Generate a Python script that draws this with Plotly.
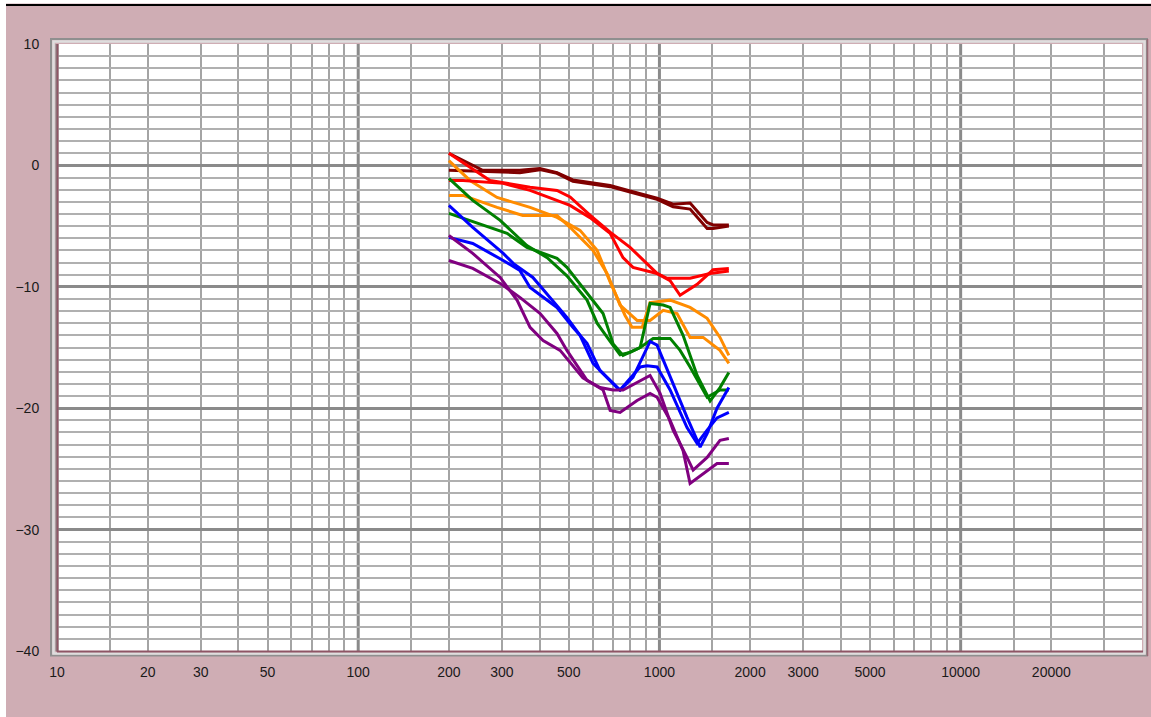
import math
import plotly.graph_objects as go

# ---------------- data (frequency in Hz, level in dB) ----------------
maroon_a_f = [200, 259, 344, 401, 457, 516, 588, 686, 799, 982, 1110, 1264, 1440, 1507, 1700]
maroon_a_db = [1.0, -0.4, -0.4, -0.25, -0.6, -1.2, -1.4, -1.65, -2.1, -2.7, -3.2, -3.1, -4.7, -4.9, -4.9]
maroon_b_f = [200, 259, 344, 401, 457, 516, 588, 686, 799, 982, 1110, 1264, 1440, 1507, 1700]
maroon_b_db = [-0.4, -0.5, -0.6, -0.35, -0.65, -1.3, -1.5, -1.75, -2.2, -2.8, -3.4, -3.6, -5.2, -5.2, -5.0]

red_a_f = [200, 223, 274, 372, 457, 505, 588, 686, 799, 982, 1085, 1171, 1334, 1507, 1700]
red_a_db = [1.0, 0.25, -1.24, -1.8, -2.06, -2.6, -4.1, -5.5, -6.75, -8.9, -9.5, -10.7, -9.8, -8.6, -8.5]
red_b_f = [200, 223, 303, 372, 505, 588, 686, 757, 817, 982, 1060, 1264, 1473, 1700]
red_b_db = [-1.24, -1.24, -1.48, -2.06, -3.3, -4.3, -5.6, -7.6, -8.4, -8.9, -9.3, -9.3, -8.9, -8.7]

orange_a_f = [200, 235, 289, 372, 457, 545, 621, 686, 769, 811, 876, 931, 1085, 1264, 1440, 1589, 1700]
orange_a_db = [0.4, -1.24, -2.64, -3.46, -4.28, -5.35, -7.0, -9.6, -12.36, -13.34, -13.34, -11.3, -11.1, -11.7, -12.6, -14.17, -15.65]
orange_b_f = [200, 223, 289, 352, 457, 505, 602, 670, 740, 843, 931, 1029, 1144, 1264, 1397, 1589, 1700]
orange_b_db = [-2.47, -2.47, -3.46, -4.12, -4.12, -5.1, -7.0, -8.9, -11.5, -12.77, -12.77, -11.94, -12.2, -14.17, -14.17, -15.24, -16.3]

green_a_f = [200, 240, 296, 363, 424, 493, 575, 621, 686, 740, 799, 863, 931, 1029, 1085, 1198, 1334, 1473, 1589, 1700]
green_a_db = [-1.07, -2.88, -4.53, -6.6, -7.6, -9.1, -11.1, -13.0, -14.5, -15.6, -15.4, -15.0, -11.37, -11.5, -11.7, -14.0, -17.3, -19.4, -18.3, -17.05]
green_b_f = [200, 235, 312, 363, 424, 457, 493, 557, 602, 650, 702, 757, 863, 953, 1085, 1171, 1264, 1440, 1589, 1700]
green_b_db = [-3.95, -4.53, -5.6, -6.75, -7.4, -7.66, -8.4, -10.05, -11.1, -12.2, -14.7, -15.65, -15.0, -14.25, -14.25, -15.24, -16.6, -19.1, -18.5, -18.5]

blue_a_f = [200, 240, 303, 327, 380, 434, 493, 545, 602, 723, 740, 817, 931, 982, 1085, 1235, 1365, 1440, 1553, 1700]
blue_a_db = [-3.29, -5.11, -7.25, -8.07, -9.23, -10.87, -12.52, -14.0, -16.3, -18.3, -18.5, -17.46, -14.5, -14.8, -17.46, -20.76, -23.2, -22.1, -20.0, -18.3]
blue_b_f = [200, 240, 303, 344, 372, 424, 457, 516, 575, 635, 702, 740, 863, 910, 982, 1085, 1235, 1334, 1440, 1553, 1700]
blue_b_db = [-5.93, -6.43, -7.83, -8.65, -10.05, -11.1, -11.7, -13.34, -14.66, -16.9, -18.0, -18.5, -16.6, -16.5, -16.6, -18.5, -21.6, -22.9, -21.8, -20.8, -20.35]

purple_a_f = [200, 240, 296, 337, 372, 411, 468, 557, 650, 686, 740, 843, 931, 982, 1085, 1198, 1264, 1397, 1553, 1700]
purple_a_db = [-5.77, -7.25, -9.23, -11.12, -13.34, -14.42, -15.24, -17.5, -18.5, -20.18, -20.35, -19.36, -18.78, -19.1, -21.0, -23.5, -26.2, -25.4, -24.55, -24.55]
purple_b_f = [200, 240, 296, 344, 401, 457, 493, 575, 635, 702, 757, 863, 931, 1005, 1110, 1235, 1294, 1440, 1589, 1700]
purple_b_db = [-7.83, -8.48, -9.72, -10.87, -12.19, -13.84, -15.24, -17.71, -18.3, -18.5, -18.5, -17.7, -17.3, -18.78, -21.8, -24.05, -25.1, -24.05, -22.65, -22.5]

x_tick_vals = [10, 20, 30, 50, 100, 200, 300, 500, 1000, 2000, 3000, 5000, 10000, 20000]
x_tick_text = ["10", "20", "30", "50", "100", "200", "300", "500", "1000", "2000", "3000", "5000", "10000", "20000"]
x_minor = [m * d for d in (10, 100, 1000) for m in (1.5, 2, 3, 4, 5, 6, 7, 8, 9)] + [15000, 20000, 30000]
x_decades = [10, 100, 1000, 10000]
y_tick_vals = [-40, -30, -20, -10, 0, 10]
x_min, x_max = 10, 40000
y_min, y_max = -40, 10

series = [
    (maroon_a_f, maroon_a_db, "#800000"),
    (maroon_b_f, maroon_b_db, "#800000"),
    (orange_a_f, orange_a_db, "#ff8c00"),
    (orange_b_f, orange_b_db, "#ff8c00"),
    (red_a_f, red_a_db, "#ff0000"),
    (red_b_f, red_b_db, "#ff0000"),
    (green_a_f, green_a_db, "#008000"),
    (green_b_f, green_b_db, "#008000"),
    (blue_a_f, blue_a_db, "#0000ff"),
    (blue_b_f, blue_b_db, "#0000ff"),
    (purple_a_f, purple_a_db, "#800080"),
    (purple_b_f, purple_b_db, "#800080"),
]

PINK = "#cfadb4"
fig = go.Figure()
for f, db, col in series:
    fig.add_trace(go.Scatter(x=f, y=db, mode="lines",
                             line=dict(color=col, width=3), showlegend=False,
                             hoverinfo="skip"))

lx0, lx1 = math.log10(x_min), math.log10(x_max)
shapes = []
for d in x_decades:
    xp = (math.log10(d) - lx0) / (lx1 - lx0)
    shapes.append(dict(type="line", xref="paper", yref="paper", x0=xp, x1=xp, y0=0, y1=1,
                       line=dict(color="#8a8a8a", width=3), layer="below"))

W, H = 1085.0, 607.0
def px(x):
    return (x - 57) / W
def py(y):
    return (651 - y) / H

# frame around plot area
shapes += [
    dict(type="rect", xref="paper", yref="paper", x0=px(51), x1=px(1147), y0=py(655.5), y1=py(39),
         line=dict(color="#8f8f8f", width=2), layer="above"),
    dict(type="rect", xref="paper", yref="paper", x0=px(53.5), x1=px(1144.5), y0=py(653.5), y1=py(41.5),
         line=dict(color="#dedede", width=2.5), layer="above"),
    dict(type="line", xref="paper", yref="paper", x0=px(57.5), x1=px(57.5), y0=py(652), y1=py(44),
         line=dict(color="#8e5565", width=2), layer="above"),
    dict(type="line", xref="paper", yref="paper", x0=px(57), x1=px(1143), y0=py(651.5), y1=py(651.5),
         line=dict(color="#8e5565", width=2), layer="above"),
    dict(type="line", xref="paper", yref="paper", x0=px(1147.5), x1=px(1147.5), y0=py(656), y1=py(39),
         line=dict(color="#9a6a76", width=1.5), layer="above"),
    # white strips and black top line
    dict(type="rect", xref="paper", yref="paper", x0=px(0), x1=px(6), y0=py(717), y1=py(0),
         line=dict(width=0), fillcolor="white", layer="above"),
    dict(type="rect", xref="paper", yref="paper", x0=px(0), x1=px(1151), y0=py(3.5), y1=py(0),
         line=dict(width=0), fillcolor="white", layer="above"),
    dict(type="line", xref="paper", yref="paper", x0=px(6), x1=px(1151), y0=py(5), y1=py(5),
         line=dict(color="black", width=2), layer="above"),
]

fig.update_layout(
    width=1151, height=717,
    margin=dict(l=57, r=9, t=44, b=66, autoexpand=False),
    paper_bgcolor=PINK, plot_bgcolor="white",
    shapes=shapes,
    xaxis=dict(type="log", range=[lx0, lx1], tickmode="array", tickvals=x_tick_vals,
               ticktext=x_tick_text, showgrid=False, zeroline=False, showline=False,
               ticks="outside", ticklen=8, tickcolor="rgba(0,0,0,0)",
               tickfont=dict(family="Liberation Sans Narrow, Arial Narrow, Liberation Sans, Arial",
                             size=14, color="#1a1a1a"),
               minor=dict(tickmode="array", tickvals=x_minor, showgrid=True,
                          gridcolor="#a4a4a4", gridwidth=2, ticks="")),
    yaxis=dict(range=[y_min, y_max], tickmode="array", tickvals=y_tick_vals,
               showgrid=True, gridcolor="#8a8a8a", gridwidth=3, zeroline=False, showline=False,
               ticks="outside", ticklen=14, tickcolor="rgba(0,0,0,0)",
               tickfont=dict(family="Liberation Sans, Arial", size=14, color="#1a1a1a"),
               minor=dict(dtick=1, tick0=0, showgrid=True, gridcolor="#b0b0b0", gridwidth=2, ticks="")),
)

fig.write_html("out.html", config={"displayModeBar": False},
               post_script="document.body.style.margin='0';document.body.style.overflow='hidden';")
